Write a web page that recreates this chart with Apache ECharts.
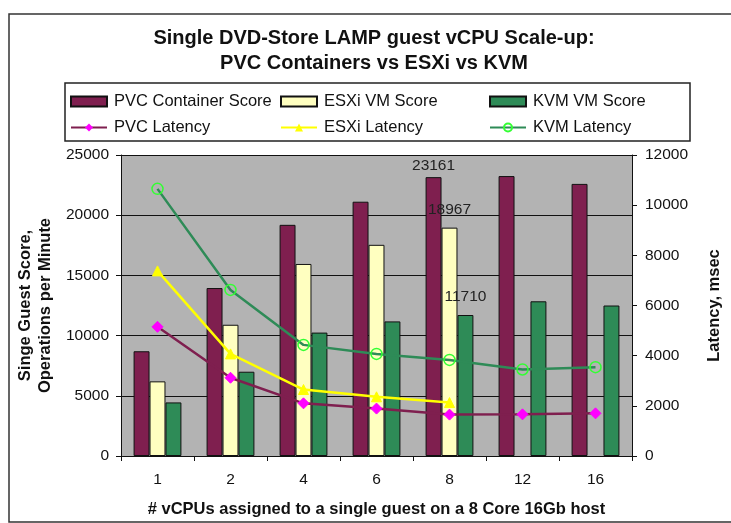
<!DOCTYPE html>
<html>
<head>
<meta charset="utf-8">
<script src="https://cdn.jsdelivr.net/npm/echarts@6/dist/echarts.min.js"></script>
<style>html,body{margin:0;padding:0;background:#fff}#c{width:731px;height:523px}</style>
</head>
<body>
<div id="c"></div>
<script>
var categories = ['1', '2', '4', '6', '8', '12', '16'];
var pvcScore = [8700, 13950, 19200, 21120, 23161, 23250, 22600];
var esxiScore = [6200, 10900, 15950, 17540, 18967, null, null];
var kvmScore = [4450, 7000, 10250, 11180, 11710, 12850, 12500];
var pvcLatency = [5150, 3120, 2100, 1890, 1650, 1660, 1700];
var esxiLatency = [7380, 4070, 2650, 2360, 2130, null, null];
var kvmLatency = [10650, 6620, 4430, 4070, 3830, 3450, 3540];
var scoreTicks = {min: 0, max: 25000, interval: 5000};
var latencyTicks = {min: 0, max: 12000, interval: 2000};
var labelled = {4: true};

var FONT = '"Liberation Sans", Arial, sans-serif';
var chart = echarts.init(document.getElementById('c'), null, {renderer: 'canvas'});

function barLabels(arr, dist) {
  return arr.map(function (v, i) {
    if (labelled[i]) {
      return {value: v, label: {show: true, position: 'top', distance: dist, color: '#222', fontSize: 15.5, fontFamily: FONT}};
    }
    return v;
  });
}

function legendAt(name, left, top, icon) {
  var l = {
    data: [name], left: left, top: top, itemWidth: 36, itemHeight: 10, itemGap: 2,
    textStyle: {fontFamily: FONT, fontSize: 16.5, color: '#111', padding: [0, 0, 0, 2]}, padding: 0
  };
  if (icon) { l.icon = icon; }
  return l;
}

function plain(v) { return String(v); }

var option = {
  animation: false,
  backgroundColor: '#fff',
  graphic: [
    {type: 'rect', shape: {x: 9, y: 14, width: 730, height: 508}, style: {fill: 'none', stroke: '#333', lineWidth: 1.5}, z: 0},
    {type: 'rect', shape: {x: 65, y: 83, width: 625, height: 58}, style: {fill: 'none', stroke: '#222', lineWidth: 1.5}, z: 0},
    {type: 'text', x: 374, y: 38, style: {text: 'Single DVD-Store LAMP guest vCPU Scale-up:', font: 'bold 20px ' + FONT, fill: '#111', textAlign: 'center', textVerticalAlign: 'middle'}},
    {type: 'text', x: 374, y: 63, style: {text: 'PVC Containers vs ESXi vs KVM', font: 'bold 20px ' + FONT, fill: '#111', textAlign: 'center', textVerticalAlign: 'middle'}}
  ],
  legend: [
    legendAt('PVC Container Score', 70, 93, 'rect'),
    legendAt('ESXi VM Score', 280, 93, 'rect'),
    legendAt('KVM VM Score', 489, 93, 'rect'),
    legendAt('PVC Latency', 70, 119),
    legendAt('ESXi Latency', 280, 119),
    legendAt('KVM Latency', 489, 119)
  ],
  grid: {left: 121, right: 96, top: 155, bottom: 62, show: true, backgroundColor: '#b3b3b3', borderWidth: 0},
  xAxis: {
    type: 'category', data: categories,
    axisLine: {lineStyle: {color: '#111', width: 1}},
    axisTick: {show: true, length: 5, lineStyle: {color: '#111'}},
    axisLabel: {color: '#111', fontSize: 15.5, fontFamily: FONT, margin: 16},
    name: '# vCPUs assigned to a single guest on a 8 Core 16Gb host',
    nameLocation: 'middle', nameGap: 45,
    nameTextStyle: {fontWeight: 'bold', fontSize: 16.5, fontFamily: FONT, color: '#111'}
  },
  yAxis: [
    {
      type: 'value', min: scoreTicks.min, max: scoreTicks.max, interval: scoreTicks.interval,
      axisLine: {show: true, lineStyle: {color: '#111'}},
      axisTick: {show: true, length: 5, lineStyle: {color: '#111'}},
      axisLabel: {color: '#111', fontSize: 15.5, fontFamily: FONT, margin: 12, formatter: plain},
      splitLine: {show: true, lineStyle: {color: '#111', width: 1}},
      name: 'Singe Guest Score,\nOperations per Minute', nameLocation: 'middle', nameRotate: 90, nameGap: 64,
      nameTextStyle: {fontWeight: 'bold', fontSize: 16.5, fontFamily: FONT, color: '#111', lineHeight: 20}
    },
    {
      type: 'value', min: latencyTicks.min, max: latencyTicks.max, interval: latencyTicks.interval,
      axisLine: {show: true, lineStyle: {color: '#111'}},
      axisTick: {show: true, length: 5, lineStyle: {color: '#111'}},
      axisLabel: {color: '#111', fontSize: 15.5, fontFamily: FONT, margin: 13, formatter: plain},
      splitLine: {show: false},
      name: 'Latency, msec', nameLocation: 'middle', nameRotate: 90, nameGap: 74,
      nameTextStyle: {fontWeight: 'bold', fontSize: 16.5, fontFamily: FONT, color: '#111'}
    }
  ],
  series: [
    {name: 'PVC Container Score', type: 'bar', data: barLabels(pvcScore, 3), barGap: '0%', barCategoryGap: '34.5%',
      itemStyle: {color: '#7f1f4f', borderColor: '#111', borderWidth: 1}},
    {name: 'ESXi VM Score', type: 'bar', data: barLabels(esxiScore, 10),
      itemStyle: {color: '#ffffc0', borderColor: '#111', borderWidth: 1}},
    {name: 'KVM VM Score', type: 'bar', data: barLabels(kvmScore, 10),
      itemStyle: {color: '#2e8b57', borderColor: '#111', borderWidth: 1}},
    {name: 'PVC Latency', type: 'line', yAxisIndex: 1, data: pvcLatency, symbol: 'diamond', symbolSize: 11,
      lineStyle: {color: '#7f1f4f', width: 2.5}, itemStyle: {color: '#ff00ff', borderColor: '#ff00ff'}, z: 5},
    {name: 'ESXi Latency', type: 'line', yAxisIndex: 1, data: esxiLatency, symbol: 'triangle', symbolSize: 10,
      lineStyle: {color: '#ffff00', width: 2.5}, itemStyle: {color: '#ffff00', borderColor: '#ffff00'}, z: 5},
    {name: 'KVM Latency', type: 'line', yAxisIndex: 1, data: kvmLatency, symbol: 'circle', symbolSize: 11,
      lineStyle: {color: '#2e8b57', width: 2.5}, itemStyle: {color: 'rgba(0,0,0,0)', borderColor: '#33ff33', borderWidth: 1.5}, z: 5}
  ]
};
chart.setOption(option);
</script>
</body>
</html>
